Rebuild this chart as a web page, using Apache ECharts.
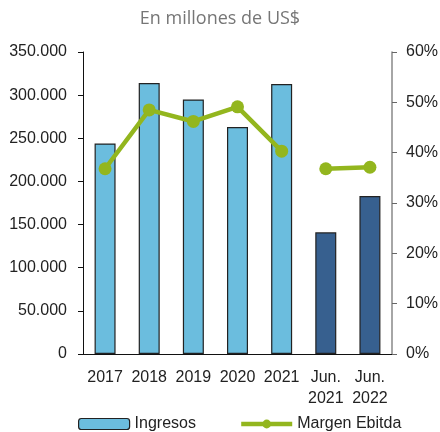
<!DOCTYPE html>
<html>
<head>
<meta charset="utf-8">
<script src="https://cdn.jsdelivr.net/npm/echarts@6/dist/echarts.min.js"></script>
<style>
  html, body { margin: 0; padding: 0; background: #fff; }
  #main { width: 440px; height: 432px; }
</style>
</head>
<body>
<div id="main"></div>
<script>
// datos
const categorias = ['2017', '2018', '2019', '2020', '2021', 'Jun.\n2021', 'Jun.\n2022'];
const ingresos = [244000, 314000, 295000, 263000, 313000, 141000, 183000];
const margenAnual = [36.8, 48.5, 46.2, 49.1, 40.3, '-', '-'];
const margenSemestral = ['-', '-', '-', '-', '-', 36.8, 37.1];
const ticksIzq = [0, 50000, 100000, 150000, 200000, 250000, 300000, 350000];
const ticksDer = [0, 10, 20, 30, 40, 50, 60];

const azulClaro = '#6BBDDE';
const azulOscuro = '#37608F';
const verde = '#93B61E';

const chart = echarts.init(document.getElementById('main'));

const fmtMiles = v => String(v).replace(/\B(?=(\d{3})+(?!\d))/g, '.');
const fuente = '"Liberation Sans", Arial, sans-serif';

const option = {
  animation: false,
  textStyle: { fontFamily: fuente },
  title: {
    text: 'En millones de US$',
    left: 'center',
    top: 5,
    textStyle: { fontFamily: 'Open Sans', fontWeight: 'normal', fontSize: 18, color: '#767676' }
  },
  legend: {
    top: 411,
    left: 73,
    itemWidth: 51,
    itemHeight: 11,
    itemGap: 43,
    textStyle: { fontSize: 16, color: '#222', fontFamily: fuente },
    data: [
      { name: 'Ingresos', itemStyle: { color: azulClaro, borderColor: '#222', borderWidth: 1.2 } },
      { name: 'Margen Ebitda', lineStyle: { width: 4.5 } }
    ]
  },
  grid: { left: 83, right: 48, top: 52, bottom: 78, outerBoundsMode: 'none' },
  xAxis: [
    {
      type: 'category',
      data: categorias,
      axisLine: { lineStyle: { color: '#111', width: 1 } },
      axisTick: { alignWithLabel: false, length: 6, lineStyle: { color: '#111' } },
      axisLabel: { fontSize: 16, color: '#222', margin: 13, lineHeight: 21, interval: 0, fontFamily: fuente }
    },
    {
      type: 'category',
      data: categorias,
      position: 'bottom',
      axisLine: { show: false },
      axisTick: { inside: true, length: 6, lineStyle: { color: '#111' } },
      axisLabel: { show: false }
    }
  ],
  yAxis: [
    {
      type: 'value',
      min: ticksIzq[0],
      max: ticksIzq[ticksIzq.length - 1],
      interval: ticksIzq[1] - ticksIzq[0],
      splitLine: { show: false },
      axisLine: { show: true, lineStyle: { color: '#111' } },
      axisTick: { show: true, length: 5, lineStyle: { color: '#111' } },
      axisLabel: { fontSize: 16, color: '#222', margin: 16, formatter: fmtMiles, fontFamily: fuente }
    },
    {
      type: 'value',
      position: 'right',
      min: ticksDer[0],
      max: ticksDer[ticksDer.length - 1],
      interval: ticksDer[1] - ticksDer[0],
      splitLine: { show: false },
      axisLine: { show: true, lineStyle: { color: '#888', width: 1.5 } },
      axisTick: { show: true, length: 5, lineStyle: { color: '#666' } },
      axisLabel: { fontSize: 16, color: '#222', margin: 14, formatter: '{value}%', fontFamily: fuente }
    }
  ],
  series: [
    {
      name: 'Ingresos',
      type: 'bar',
      barWidth: 21,
      data: ingresos.map((v, i) => ({
        value: v,
        itemStyle: { color: i < 5 ? azulClaro : azulOscuro }
      })),
      itemStyle: { borderColor: '#222', borderWidth: 1.2 }
    },
    {
      name: 'Margen Ebitda',
      type: 'line',
      yAxisIndex: 1,
      data: margenAnual,
      symbol: 'circle',
      symbolSize: 13,
      itemStyle: { color: verde },
      lineStyle: { color: verde, width: 4.5 }
    },
    {
      name: 'Margen Ebitda',
      type: 'line',
      yAxisIndex: 1,
      data: margenSemestral,
      symbol: 'circle',
      symbolSize: 13,
      itemStyle: { color: verde },
      lineStyle: { color: verde, width: 4.5 }
    }
  ]
};

chart.setOption(option);
</script>
</body>
</html>
